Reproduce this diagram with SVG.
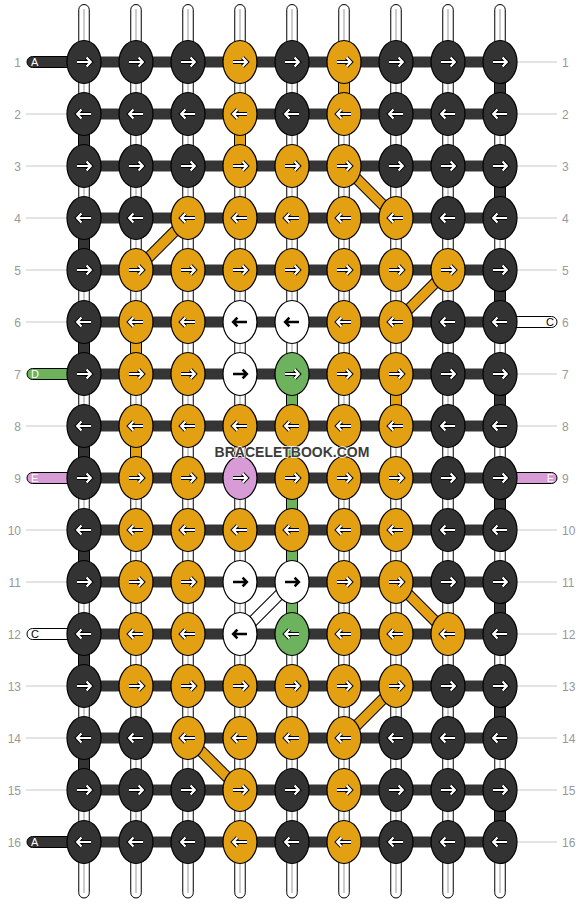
<svg xmlns="http://www.w3.org/2000/svg" xmlns:xlink="http://www.w3.org/1999/xlink" width="584" height="904" viewBox="0 0 584 904">
<style>
.nd{stroke:#000;stroke-width:1.2}
.d{fill:#333}.o{fill:#e2a012}.w{fill:#fff}.g{fill:#6db35e}.p{fill:#d79bd6}
.tube{fill:#fff;stroke:#000;stroke-width:1}
.cl{stroke:#bbb;stroke-width:1.5}
.hb{fill:#353535}
.seg{stroke:#000;stroke-width:1}
.gl{stroke:#c8c8c8;stroke-width:1}
.num{font-family:"Liberation Sans",Arial,sans-serif;font-size:12px;fill:#999}
.tl{font-family:"Liberation Sans",Arial,sans-serif;font-size:11px}
.wm{font-family:"Liberation Sans",Arial,sans-serif;font-size:14px;font-weight:bold;fill:#3c3c3c;stroke:#fff;stroke-width:1.5;paint-order:stroke fill}
</style>
<defs>
<path id="pR" d="M-7 0H6M2.6-4.4L6.8 0 2.6 4.4" fill="none"/>
<path id="pL" d="M7 0H-6M-2.6-4.4L-6.8 0-2.6 4.4" fill="none"/>
<g id="aRw"><use href="#pR" stroke="#000" stroke-width="4.2"/><use href="#pR" stroke="#fff" stroke-width="2.2"/></g>
<g id="aLw"><use href="#pL" stroke="#000" stroke-width="4.2"/><use href="#pL" stroke="#fff" stroke-width="2.2"/></g>
<use id="aRk" href="#pR" stroke="#000" stroke-width="2.6"/>
<use id="aLk" href="#pL" stroke="#000" stroke-width="2.6"/>
</defs>
<rect width="584" height="904" fill="#fff"/>
<g id="connectors">
<g id="strands">
<rect class="tube" x="78.75" y="4.5" width="10.5" height="893.5" rx="5.25"/><line class="cl" x1="84" y1="9" x2="84" y2="893"/>
<rect class="tube" x="130.75" y="4.5" width="10.5" height="893.5" rx="5.25"/><line class="cl" x1="136" y1="9" x2="136" y2="893"/>
<rect class="tube" x="182.75" y="4.5" width="10.5" height="893.5" rx="5.25"/><line class="cl" x1="188" y1="9" x2="188" y2="893"/>
<rect class="tube" x="234.75" y="4.5" width="10.5" height="893.5" rx="5.25"/><line class="cl" x1="240" y1="9" x2="240" y2="893"/>
<rect class="tube" x="286.75" y="4.5" width="10.5" height="893.5" rx="5.25"/><line class="cl" x1="292" y1="9" x2="292" y2="893"/>
<rect class="tube" x="338.75" y="4.5" width="10.5" height="893.5" rx="5.25"/><line class="cl" x1="344" y1="9" x2="344" y2="893"/>
<rect class="tube" x="390.75" y="4.5" width="10.5" height="893.5" rx="5.25"/><line class="cl" x1="396" y1="9" x2="396" y2="893"/>
<rect class="tube" x="442.75" y="4.5" width="10.5" height="893.5" rx="5.25"/><line class="cl" x1="448" y1="9" x2="448" y2="893"/>
<rect class="tube" x="494.75" y="4.5" width="10.5" height="893.5" rx="5.25"/><line class="cl" x1="500" y1="9" x2="500" y2="893"/>
</g>
<g id="vsegs">
<rect class="seg d" x="494.5" y="80" width="11" height="16"/>
<rect class="seg d" x="494.5" y="184" width="11" height="16"/>
<rect class="seg d" x="494.5" y="288" width="11" height="16"/>
<rect class="seg d" x="494.5" y="392" width="11" height="16"/>
<rect class="seg d" x="494.5" y="496" width="11" height="16"/>
<rect class="seg d" x="494.5" y="600" width="11" height="16"/>
<rect class="seg d" x="494.5" y="704" width="11" height="16"/>
<rect class="seg d" x="494.5" y="808" width="11" height="16"/>
<rect class="seg d" x="78.5" y="132" width="11" height="16"/>
<rect class="seg d" x="78.5" y="236" width="11" height="16"/>
<rect class="seg d" x="78.5" y="340" width="11" height="16"/>
<rect class="seg d" x="78.5" y="444" width="11" height="16"/>
<rect class="seg d" x="78.5" y="548" width="11" height="16"/>
<rect class="seg d" x="78.5" y="652" width="11" height="16"/>
<rect class="seg d" x="78.5" y="756" width="11" height="16"/>
<rect class="seg o" x="338.5" y="80" width="11" height="16"/>
<rect class="seg o" x="234.5" y="132" width="11" height="16"/>
<rect class="seg o" x="130.5" y="340" width="11" height="16"/>
<rect class="seg o" x="390.5" y="392" width="11" height="16"/>
<rect class="seg o" x="130.5" y="444" width="11" height="16"/>
<rect class="seg g" x="286.5" y="392" width="11" height="16"/>
<rect class="seg g" x="286.5" y="444" width="11" height="16"/>
<rect class="seg g" x="286.5" y="496" width="11" height="16"/>
<rect class="seg g" x="286.5" y="548" width="11" height="16"/>
<rect class="seg g" x="286.5" y="600" width="11" height="16"/>
</g>
<g id="rows">
<rect class="hb" x="84" y="56.5" width="416" height="11"/>
<rect class="hb" x="84" y="108.5" width="416" height="11"/>
<rect class="hb" x="84" y="160.5" width="416" height="11"/>
<rect class="hb" x="84" y="212.5" width="416" height="11"/>
<rect class="hb" x="84" y="264.5" width="416" height="11"/>
<rect class="hb" x="84" y="316.5" width="416" height="11"/>
<rect class="hb" x="84" y="368.5" width="416" height="11"/>
<rect class="hb" x="84" y="420.5" width="416" height="11"/>
<rect class="hb" x="84" y="472.5" width="416" height="11"/>
<rect class="hb" x="84" y="524.5" width="416" height="11"/>
<rect class="hb" x="84" y="576.5" width="416" height="11"/>
<rect class="hb" x="84" y="628.5" width="416" height="11"/>
<rect class="hb" x="84" y="680.5" width="416" height="11"/>
<rect class="hb" x="84" y="732.5" width="416" height="11"/>
<rect class="hb" x="84" y="784.5" width="416" height="11"/>
<rect class="hb" x="84" y="836.5" width="416" height="11"/>
</g>
<g id="diagonals">
<line x1="344" y1="166" x2="396" y2="218" stroke="#000" stroke-width="11.5"/><line x1="344" y1="166" x2="396" y2="218" stroke="#e2a012" stroke-width="9.5"/>
<line x1="188" y1="218" x2="136" y2="270" stroke="#000" stroke-width="11.5"/><line x1="188" y1="218" x2="136" y2="270" stroke="#e2a012" stroke-width="9.5"/>
<line x1="448" y1="270" x2="396" y2="322" stroke="#000" stroke-width="11.5"/><line x1="448" y1="270" x2="396" y2="322" stroke="#e2a012" stroke-width="9.5"/>
<line x1="396" y1="582" x2="448" y2="634" stroke="#000" stroke-width="11.5"/><line x1="396" y1="582" x2="448" y2="634" stroke="#e2a012" stroke-width="9.5"/>
<line x1="396" y1="686" x2="344" y2="738" stroke="#000" stroke-width="11.5"/><line x1="396" y1="686" x2="344" y2="738" stroke="#e2a012" stroke-width="9.5"/>
<line x1="188" y1="738" x2="240" y2="790" stroke="#000" stroke-width="11.5"/><line x1="188" y1="738" x2="240" y2="790" stroke="#e2a012" stroke-width="9.5"/>
<line x1="292" y1="582" x2="240" y2="634" stroke="#000" stroke-width="11.5"/><line x1="292" y1="582" x2="240" y2="634" stroke="#fff" stroke-width="9.5"/>
</g>
<g id="tails">
<rect class="seg d" x="27" y="56.5" width="50" height="11" rx="5.5"/>
<rect class="seg g" x="27" y="368.5" width="50" height="11" rx="5.5"/>
<rect class="seg p" x="27" y="472.5" width="50" height="11" rx="5.5"/>
<rect class="seg w" x="27" y="628.5" width="50" height="11" rx="5.5"/>
<rect class="seg d" x="27" y="836.5" width="50" height="11" rx="5.5"/>
<rect class="seg w" x="507" y="316.5" width="50" height="11" rx="5.5"/>
<rect class="seg p" x="507" y="472.5" width="50" height="11" rx="5.5"/>
</g>
<g id="guides">
<line class="gl" x1="26" y1="114" x2="67" y2="114"/>
<line class="gl" x1="26" y1="166" x2="67" y2="166"/>
<line class="gl" x1="26" y1="218" x2="67" y2="218"/>
<line class="gl" x1="26" y1="270" x2="67" y2="270"/>
<line class="gl" x1="26" y1="322" x2="67" y2="322"/>
<line class="gl" x1="26" y1="426" x2="67" y2="426"/>
<line class="gl" x1="26" y1="530" x2="67" y2="530"/>
<line class="gl" x1="26" y1="582" x2="67" y2="582"/>
<line class="gl" x1="26" y1="686" x2="67" y2="686"/>
<line class="gl" x1="26" y1="738" x2="67" y2="738"/>
<line class="gl" x1="26" y1="790" x2="67" y2="790"/>
<line class="gl" x1="517" y1="62" x2="557" y2="62"/>
<line class="gl" x1="517" y1="114" x2="557" y2="114"/>
<line class="gl" x1="517" y1="166" x2="557" y2="166"/>
<line class="gl" x1="517" y1="218" x2="557" y2="218"/>
<line class="gl" x1="517" y1="270" x2="557" y2="270"/>
<line class="gl" x1="517" y1="374" x2="557" y2="374"/>
<line class="gl" x1="517" y1="426" x2="557" y2="426"/>
<line class="gl" x1="517" y1="530" x2="557" y2="530"/>
<line class="gl" x1="517" y1="582" x2="557" y2="582"/>
<line class="gl" x1="517" y1="634" x2="557" y2="634"/>
<line class="gl" x1="517" y1="686" x2="557" y2="686"/>
<line class="gl" x1="517" y1="738" x2="557" y2="738"/>
<line class="gl" x1="517" y1="790" x2="557" y2="790"/>
<line class="gl" x1="517" y1="842" x2="557" y2="842"/>
</g>
</g>
<g id="tail-labels" class="tl">
<text x="31" y="66" fill="#fff">A</text>
<text x="31" y="378" fill="#fff">D</text>
<text x="31" y="482" fill="#fff">E</text>
<text x="31" y="638" fill="#000">C</text>
<text x="31" y="846" fill="#fff">A</text>
<text x="554" y="326" fill="#000" text-anchor="end">C</text>
<text x="554" y="482" fill="#fff" text-anchor="end">E</text>
</g>
<g id="row-numbers" class="num">
<g text-anchor="end">
<text x="21" y="66.5">1</text><text x="21" y="118.5">2</text><text x="21" y="170.5">3</text><text x="21" y="222.5">4</text>
<text x="21" y="274.5">5</text><text x="21" y="326.5">6</text><text x="21" y="378.5">7</text><text x="21" y="430.5">8</text>
<text x="21" y="482.5">9</text><text x="21" y="534.5">10</text><text x="21" y="586.5">11</text><text x="21" y="638.5">12</text>
<text x="21" y="690.5">13</text><text x="21" y="742.5">14</text><text x="21" y="794.5">15</text><text x="21" y="846.5">16</text>
</g>
<g>
<text x="562" y="66.5">1</text><text x="562" y="118.5">2</text><text x="562" y="170.5">3</text><text x="562" y="222.5">4</text>
<text x="562" y="274.5">5</text><text x="562" y="326.5">6</text><text x="562" y="378.5">7</text><text x="562" y="430.5">8</text>
<text x="562" y="482.5">9</text><text x="562" y="534.5">10</text><text x="562" y="586.5">11</text><text x="562" y="638.5">12</text>
<text x="562" y="690.5">13</text><text x="562" y="742.5">14</text><text x="562" y="794.5">15</text><text x="562" y="846.5">16</text>
</g>
</g>
<g id="nodes">
<g id="n1-1"><ellipse class="nd d" cx="84" cy="62" rx="17" ry="21.5"/><use href="#aRw" x="84" y="62"/></g>
<g id="n1-2"><ellipse class="nd d" cx="136" cy="62" rx="17" ry="21.5"/><use href="#aRw" x="136" y="62"/></g>
<g id="n1-3"><ellipse class="nd d" cx="188" cy="62" rx="17" ry="21.5"/><use href="#aRw" x="188" y="62"/></g>
<g id="n1-4"><ellipse class="nd o" cx="240" cy="62" rx="17" ry="21.5"/><use href="#aRw" x="240" y="62"/></g>
<g id="n1-5"><ellipse class="nd d" cx="292" cy="62" rx="17" ry="21.5"/><use href="#aRw" x="292" y="62"/></g>
<g id="n1-6"><ellipse class="nd o" cx="344" cy="62" rx="17" ry="21.5"/><use href="#aRw" x="344" y="62"/></g>
<g id="n1-7"><ellipse class="nd d" cx="396" cy="62" rx="17" ry="21.5"/><use href="#aRw" x="396" y="62"/></g>
<g id="n1-8"><ellipse class="nd d" cx="448" cy="62" rx="17" ry="21.5"/><use href="#aRw" x="448" y="62"/></g>
<g id="n1-9"><ellipse class="nd d" cx="500" cy="62" rx="17" ry="21.5"/><use href="#aRw" x="500" y="62"/></g>

<g id="n2-1"><ellipse class="nd d" cx="84" cy="114" rx="17" ry="21.5"/><use href="#aLw" x="84" y="114"/></g>
<g id="n2-2"><ellipse class="nd d" cx="136" cy="114" rx="17" ry="21.5"/><use href="#aLw" x="136" y="114"/></g>
<g id="n2-3"><ellipse class="nd d" cx="188" cy="114" rx="17" ry="21.5"/><use href="#aLw" x="188" y="114"/></g>
<g id="n2-4"><ellipse class="nd o" cx="240" cy="114" rx="17" ry="21.5"/><use href="#aLw" x="240" y="114"/></g>
<g id="n2-5"><ellipse class="nd d" cx="292" cy="114" rx="17" ry="21.5"/><use href="#aLw" x="292" y="114"/></g>
<g id="n2-6"><ellipse class="nd o" cx="344" cy="114" rx="17" ry="21.5"/><use href="#aLw" x="344" y="114"/></g>
<g id="n2-7"><ellipse class="nd d" cx="396" cy="114" rx="17" ry="21.5"/><use href="#aLw" x="396" y="114"/></g>
<g id="n2-8"><ellipse class="nd d" cx="448" cy="114" rx="17" ry="21.5"/><use href="#aLw" x="448" y="114"/></g>
<g id="n2-9"><ellipse class="nd d" cx="500" cy="114" rx="17" ry="21.5"/><use href="#aLw" x="500" y="114"/></g>

<g id="n3-1"><ellipse class="nd d" cx="84" cy="166" rx="17" ry="21.5"/><use href="#aRw" x="84" y="166"/></g>
<g id="n3-2"><ellipse class="nd d" cx="136" cy="166" rx="17" ry="21.5"/><use href="#aRw" x="136" y="166"/></g>
<g id="n3-3"><ellipse class="nd d" cx="188" cy="166" rx="17" ry="21.5"/><use href="#aRw" x="188" y="166"/></g>
<g id="n3-4"><ellipse class="nd o" cx="240" cy="166" rx="17" ry="21.5"/><use href="#aRw" x="240" y="166"/></g>
<g id="n3-5"><ellipse class="nd o" cx="292" cy="166" rx="17" ry="21.5"/><use href="#aRw" x="292" y="166"/></g>
<g id="n3-6"><ellipse class="nd o" cx="344" cy="166" rx="17" ry="21.5"/><use href="#aRw" x="344" y="166"/></g>
<g id="n3-7"><ellipse class="nd d" cx="396" cy="166" rx="17" ry="21.5"/><use href="#aRw" x="396" y="166"/></g>
<g id="n3-8"><ellipse class="nd d" cx="448" cy="166" rx="17" ry="21.5"/><use href="#aRw" x="448" y="166"/></g>
<g id="n3-9"><ellipse class="nd d" cx="500" cy="166" rx="17" ry="21.5"/><use href="#aRw" x="500" y="166"/></g>

<g id="n4-1"><ellipse class="nd d" cx="84" cy="218" rx="17" ry="21.5"/><use href="#aLw" x="84" y="218"/></g>
<g id="n4-2"><ellipse class="nd d" cx="136" cy="218" rx="17" ry="21.5"/><use href="#aLw" x="136" y="218"/></g>
<g id="n4-3"><ellipse class="nd o" cx="188" cy="218" rx="17" ry="21.5"/><use href="#aLw" x="188" y="218"/></g>
<g id="n4-4"><ellipse class="nd o" cx="240" cy="218" rx="17" ry="21.5"/><use href="#aLw" x="240" y="218"/></g>
<g id="n4-5"><ellipse class="nd o" cx="292" cy="218" rx="17" ry="21.5"/><use href="#aLw" x="292" y="218"/></g>
<g id="n4-6"><ellipse class="nd o" cx="344" cy="218" rx="17" ry="21.5"/><use href="#aLw" x="344" y="218"/></g>
<g id="n4-7"><ellipse class="nd o" cx="396" cy="218" rx="17" ry="21.5"/><use href="#aLw" x="396" y="218"/></g>
<g id="n4-8"><ellipse class="nd d" cx="448" cy="218" rx="17" ry="21.5"/><use href="#aLw" x="448" y="218"/></g>
<g id="n4-9"><ellipse class="nd d" cx="500" cy="218" rx="17" ry="21.5"/><use href="#aLw" x="500" y="218"/></g>

<g id="n5-1"><ellipse class="nd d" cx="84" cy="270" rx="17" ry="21.5"/><use href="#aRw" x="84" y="270"/></g>
<g id="n5-2"><ellipse class="nd o" cx="136" cy="270" rx="17" ry="21.5"/><use href="#aRw" x="136" y="270"/></g>
<g id="n5-3"><ellipse class="nd o" cx="188" cy="270" rx="17" ry="21.5"/><use href="#aRw" x="188" y="270"/></g>
<g id="n5-4"><ellipse class="nd o" cx="240" cy="270" rx="17" ry="21.5"/><use href="#aRw" x="240" y="270"/></g>
<g id="n5-5"><ellipse class="nd o" cx="292" cy="270" rx="17" ry="21.5"/><use href="#aRw" x="292" y="270"/></g>
<g id="n5-6"><ellipse class="nd o" cx="344" cy="270" rx="17" ry="21.5"/><use href="#aRw" x="344" y="270"/></g>
<g id="n5-7"><ellipse class="nd o" cx="396" cy="270" rx="17" ry="21.5"/><use href="#aRw" x="396" y="270"/></g>
<g id="n5-8"><ellipse class="nd o" cx="448" cy="270" rx="17" ry="21.5"/><use href="#aRw" x="448" y="270"/></g>
<g id="n5-9"><ellipse class="nd d" cx="500" cy="270" rx="17" ry="21.5"/><use href="#aRw" x="500" y="270"/></g>

<g id="n6-1"><ellipse class="nd d" cx="84" cy="322" rx="17" ry="21.5"/><use href="#aLw" x="84" y="322"/></g>
<g id="n6-2"><ellipse class="nd o" cx="136" cy="322" rx="17" ry="21.5"/><use href="#aLw" x="136" y="322"/></g>
<g id="n6-3"><ellipse class="nd o" cx="188" cy="322" rx="17" ry="21.5"/><use href="#aLw" x="188" y="322"/></g>
<g id="n6-4"><ellipse class="nd w" cx="240" cy="322" rx="17" ry="21.5"/><use href="#aLk" x="240" y="322"/></g>
<g id="n6-5"><ellipse class="nd w" cx="292" cy="322" rx="17" ry="21.5"/><use href="#aLk" x="292" y="322"/></g>
<g id="n6-6"><ellipse class="nd o" cx="344" cy="322" rx="17" ry="21.5"/><use href="#aLw" x="344" y="322"/></g>
<g id="n6-7"><ellipse class="nd o" cx="396" cy="322" rx="17" ry="21.5"/><use href="#aLw" x="396" y="322"/></g>
<g id="n6-8"><ellipse class="nd d" cx="448" cy="322" rx="17" ry="21.5"/><use href="#aLw" x="448" y="322"/></g>
<g id="n6-9"><ellipse class="nd d" cx="500" cy="322" rx="17" ry="21.5"/><use href="#aLw" x="500" y="322"/></g>

<g id="n7-1"><ellipse class="nd d" cx="84" cy="374" rx="17" ry="21.5"/><use href="#aRw" x="84" y="374"/></g>
<g id="n7-2"><ellipse class="nd o" cx="136" cy="374" rx="17" ry="21.5"/><use href="#aRw" x="136" y="374"/></g>
<g id="n7-3"><ellipse class="nd o" cx="188" cy="374" rx="17" ry="21.5"/><use href="#aRw" x="188" y="374"/></g>
<g id="n7-4"><ellipse class="nd w" cx="240" cy="374" rx="17" ry="21.5"/><use href="#aRk" x="240" y="374"/></g>
<g id="n7-5"><ellipse class="nd g" cx="292" cy="374" rx="17" ry="21.5"/><use href="#aRw" x="292" y="374"/></g>
<g id="n7-6"><ellipse class="nd o" cx="344" cy="374" rx="17" ry="21.5"/><use href="#aRw" x="344" y="374"/></g>
<g id="n7-7"><ellipse class="nd o" cx="396" cy="374" rx="17" ry="21.5"/><use href="#aRw" x="396" y="374"/></g>
<g id="n7-8"><ellipse class="nd d" cx="448" cy="374" rx="17" ry="21.5"/><use href="#aRw" x="448" y="374"/></g>
<g id="n7-9"><ellipse class="nd d" cx="500" cy="374" rx="17" ry="21.5"/><use href="#aRw" x="500" y="374"/></g>

<g id="n8-1"><ellipse class="nd d" cx="84" cy="426" rx="17" ry="21.5"/><use href="#aLw" x="84" y="426"/></g>
<g id="n8-2"><ellipse class="nd o" cx="136" cy="426" rx="17" ry="21.5"/><use href="#aLw" x="136" y="426"/></g>
<g id="n8-3"><ellipse class="nd o" cx="188" cy="426" rx="17" ry="21.5"/><use href="#aLw" x="188" y="426"/></g>
<g id="n8-4"><ellipse class="nd o" cx="240" cy="426" rx="17" ry="21.5"/><use href="#aLw" x="240" y="426"/></g>
<g id="n8-5"><ellipse class="nd o" cx="292" cy="426" rx="17" ry="21.5"/><use href="#aLw" x="292" y="426"/></g>
<g id="n8-6"><ellipse class="nd o" cx="344" cy="426" rx="17" ry="21.5"/><use href="#aLw" x="344" y="426"/></g>
<g id="n8-7"><ellipse class="nd o" cx="396" cy="426" rx="17" ry="21.5"/><use href="#aLw" x="396" y="426"/></g>
<g id="n8-8"><ellipse class="nd d" cx="448" cy="426" rx="17" ry="21.5"/><use href="#aLw" x="448" y="426"/></g>
<g id="n8-9"><ellipse class="nd d" cx="500" cy="426" rx="17" ry="21.5"/><use href="#aLw" x="500" y="426"/></g>

<g id="n9-1"><ellipse class="nd d" cx="84" cy="478" rx="17" ry="21.5"/><use href="#aRw" x="84" y="478"/></g>
<g id="n9-2"><ellipse class="nd o" cx="136" cy="478" rx="17" ry="21.5"/><use href="#aRw" x="136" y="478"/></g>
<g id="n9-3"><ellipse class="nd o" cx="188" cy="478" rx="17" ry="21.5"/><use href="#aRw" x="188" y="478"/></g>
<g id="n9-4"><ellipse class="nd p" cx="240" cy="478" rx="17" ry="21.5"/><use href="#aRw" x="240" y="478"/></g>
<g id="n9-5"><ellipse class="nd o" cx="292" cy="478" rx="17" ry="21.5"/><use href="#aRw" x="292" y="478"/></g>
<g id="n9-6"><ellipse class="nd o" cx="344" cy="478" rx="17" ry="21.5"/><use href="#aRw" x="344" y="478"/></g>
<g id="n9-7"><ellipse class="nd o" cx="396" cy="478" rx="17" ry="21.5"/><use href="#aRw" x="396" y="478"/></g>
<g id="n9-8"><ellipse class="nd d" cx="448" cy="478" rx="17" ry="21.5"/><use href="#aRw" x="448" y="478"/></g>
<g id="n9-9"><ellipse class="nd d" cx="500" cy="478" rx="17" ry="21.5"/><use href="#aRw" x="500" y="478"/></g>

<g id="n10-1"><ellipse class="nd d" cx="84" cy="530" rx="17" ry="21.5"/><use href="#aLw" x="84" y="530"/></g>
<g id="n10-2"><ellipse class="nd o" cx="136" cy="530" rx="17" ry="21.5"/><use href="#aLw" x="136" y="530"/></g>
<g id="n10-3"><ellipse class="nd o" cx="188" cy="530" rx="17" ry="21.5"/><use href="#aLw" x="188" y="530"/></g>
<g id="n10-4"><ellipse class="nd o" cx="240" cy="530" rx="17" ry="21.5"/><use href="#aLw" x="240" y="530"/></g>
<g id="n10-5"><ellipse class="nd o" cx="292" cy="530" rx="17" ry="21.5"/><use href="#aLw" x="292" y="530"/></g>
<g id="n10-6"><ellipse class="nd o" cx="344" cy="530" rx="17" ry="21.5"/><use href="#aLw" x="344" y="530"/></g>
<g id="n10-7"><ellipse class="nd o" cx="396" cy="530" rx="17" ry="21.5"/><use href="#aLw" x="396" y="530"/></g>
<g id="n10-8"><ellipse class="nd d" cx="448" cy="530" rx="17" ry="21.5"/><use href="#aLw" x="448" y="530"/></g>
<g id="n10-9"><ellipse class="nd d" cx="500" cy="530" rx="17" ry="21.5"/><use href="#aLw" x="500" y="530"/></g>

<g id="n11-1"><ellipse class="nd d" cx="84" cy="582" rx="17" ry="21.5"/><use href="#aRw" x="84" y="582"/></g>
<g id="n11-2"><ellipse class="nd o" cx="136" cy="582" rx="17" ry="21.5"/><use href="#aRw" x="136" y="582"/></g>
<g id="n11-3"><ellipse class="nd o" cx="188" cy="582" rx="17" ry="21.5"/><use href="#aRw" x="188" y="582"/></g>
<g id="n11-4"><ellipse class="nd w" cx="240" cy="582" rx="17" ry="21.5"/><use href="#aRk" x="240" y="582"/></g>
<g id="n11-5"><ellipse class="nd w" cx="292" cy="582" rx="17" ry="21.5"/><use href="#aRk" x="292" y="582"/></g>
<g id="n11-6"><ellipse class="nd o" cx="344" cy="582" rx="17" ry="21.5"/><use href="#aRw" x="344" y="582"/></g>
<g id="n11-7"><ellipse class="nd o" cx="396" cy="582" rx="17" ry="21.5"/><use href="#aRw" x="396" y="582"/></g>
<g id="n11-8"><ellipse class="nd d" cx="448" cy="582" rx="17" ry="21.5"/><use href="#aRw" x="448" y="582"/></g>
<g id="n11-9"><ellipse class="nd d" cx="500" cy="582" rx="17" ry="21.5"/><use href="#aRw" x="500" y="582"/></g>

<g id="n12-1"><ellipse class="nd d" cx="84" cy="634" rx="17" ry="21.5"/><use href="#aLw" x="84" y="634"/></g>
<g id="n12-2"><ellipse class="nd o" cx="136" cy="634" rx="17" ry="21.5"/><use href="#aLw" x="136" y="634"/></g>
<g id="n12-3"><ellipse class="nd o" cx="188" cy="634" rx="17" ry="21.5"/><use href="#aLw" x="188" y="634"/></g>
<g id="n12-4"><ellipse class="nd w" cx="240" cy="634" rx="17" ry="21.5"/><use href="#aLk" x="240" y="634"/></g>
<g id="n12-5"><ellipse class="nd g" cx="292" cy="634" rx="17" ry="21.5"/><use href="#aLw" x="292" y="634"/></g>
<g id="n12-6"><ellipse class="nd o" cx="344" cy="634" rx="17" ry="21.5"/><use href="#aLw" x="344" y="634"/></g>
<g id="n12-7"><ellipse class="nd o" cx="396" cy="634" rx="17" ry="21.5"/><use href="#aLw" x="396" y="634"/></g>
<g id="n12-8"><ellipse class="nd o" cx="448" cy="634" rx="17" ry="21.5"/><use href="#aLw" x="448" y="634"/></g>
<g id="n12-9"><ellipse class="nd d" cx="500" cy="634" rx="17" ry="21.5"/><use href="#aLw" x="500" y="634"/></g>

<g id="n13-1"><ellipse class="nd d" cx="84" cy="686" rx="17" ry="21.5"/><use href="#aRw" x="84" y="686"/></g>
<g id="n13-2"><ellipse class="nd o" cx="136" cy="686" rx="17" ry="21.5"/><use href="#aRw" x="136" y="686"/></g>
<g id="n13-3"><ellipse class="nd o" cx="188" cy="686" rx="17" ry="21.5"/><use href="#aRw" x="188" y="686"/></g>
<g id="n13-4"><ellipse class="nd o" cx="240" cy="686" rx="17" ry="21.5"/><use href="#aRw" x="240" y="686"/></g>
<g id="n13-5"><ellipse class="nd o" cx="292" cy="686" rx="17" ry="21.5"/><use href="#aRw" x="292" y="686"/></g>
<g id="n13-6"><ellipse class="nd o" cx="344" cy="686" rx="17" ry="21.5"/><use href="#aRw" x="344" y="686"/></g>
<g id="n13-7"><ellipse class="nd o" cx="396" cy="686" rx="17" ry="21.5"/><use href="#aRw" x="396" y="686"/></g>
<g id="n13-8"><ellipse class="nd d" cx="448" cy="686" rx="17" ry="21.5"/><use href="#aRw" x="448" y="686"/></g>
<g id="n13-9"><ellipse class="nd d" cx="500" cy="686" rx="17" ry="21.5"/><use href="#aRw" x="500" y="686"/></g>

<g id="n14-1"><ellipse class="nd d" cx="84" cy="738" rx="17" ry="21.5"/><use href="#aLw" x="84" y="738"/></g>
<g id="n14-2"><ellipse class="nd d" cx="136" cy="738" rx="17" ry="21.5"/><use href="#aLw" x="136" y="738"/></g>
<g id="n14-3"><ellipse class="nd o" cx="188" cy="738" rx="17" ry="21.5"/><use href="#aLw" x="188" y="738"/></g>
<g id="n14-4"><ellipse class="nd o" cx="240" cy="738" rx="17" ry="21.5"/><use href="#aLw" x="240" y="738"/></g>
<g id="n14-5"><ellipse class="nd o" cx="292" cy="738" rx="17" ry="21.5"/><use href="#aLw" x="292" y="738"/></g>
<g id="n14-6"><ellipse class="nd o" cx="344" cy="738" rx="17" ry="21.5"/><use href="#aLw" x="344" y="738"/></g>
<g id="n14-7"><ellipse class="nd d" cx="396" cy="738" rx="17" ry="21.5"/><use href="#aLw" x="396" y="738"/></g>
<g id="n14-8"><ellipse class="nd d" cx="448" cy="738" rx="17" ry="21.5"/><use href="#aLw" x="448" y="738"/></g>
<g id="n14-9"><ellipse class="nd d" cx="500" cy="738" rx="17" ry="21.5"/><use href="#aLw" x="500" y="738"/></g>

<g id="n15-1"><ellipse class="nd d" cx="84" cy="790" rx="17" ry="21.5"/><use href="#aRw" x="84" y="790"/></g>
<g id="n15-2"><ellipse class="nd d" cx="136" cy="790" rx="17" ry="21.5"/><use href="#aRw" x="136" y="790"/></g>
<g id="n15-3"><ellipse class="nd d" cx="188" cy="790" rx="17" ry="21.5"/><use href="#aRw" x="188" y="790"/></g>
<g id="n15-4"><ellipse class="nd o" cx="240" cy="790" rx="17" ry="21.5"/><use href="#aRw" x="240" y="790"/></g>
<g id="n15-5"><ellipse class="nd d" cx="292" cy="790" rx="17" ry="21.5"/><use href="#aRw" x="292" y="790"/></g>
<g id="n15-6"><ellipse class="nd o" cx="344" cy="790" rx="17" ry="21.5"/><use href="#aRw" x="344" y="790"/></g>
<g id="n15-7"><ellipse class="nd d" cx="396" cy="790" rx="17" ry="21.5"/><use href="#aRw" x="396" y="790"/></g>
<g id="n15-8"><ellipse class="nd d" cx="448" cy="790" rx="17" ry="21.5"/><use href="#aRw" x="448" y="790"/></g>
<g id="n15-9"><ellipse class="nd d" cx="500" cy="790" rx="17" ry="21.5"/><use href="#aRw" x="500" y="790"/></g>

<g id="n16-1"><ellipse class="nd d" cx="84" cy="842" rx="17" ry="21.5"/><use href="#aLw" x="84" y="842"/></g>
<g id="n16-2"><ellipse class="nd d" cx="136" cy="842" rx="17" ry="21.5"/><use href="#aLw" x="136" y="842"/></g>
<g id="n16-3"><ellipse class="nd d" cx="188" cy="842" rx="17" ry="21.5"/><use href="#aLw" x="188" y="842"/></g>
<g id="n16-4"><ellipse class="nd o" cx="240" cy="842" rx="17" ry="21.5"/><use href="#aLw" x="240" y="842"/></g>
<g id="n16-5"><ellipse class="nd d" cx="292" cy="842" rx="17" ry="21.5"/><use href="#aLw" x="292" y="842"/></g>
<g id="n16-6"><ellipse class="nd o" cx="344" cy="842" rx="17" ry="21.5"/><use href="#aLw" x="344" y="842"/></g>
<g id="n16-7"><ellipse class="nd d" cx="396" cy="842" rx="17" ry="21.5"/><use href="#aLw" x="396" y="842"/></g>
<g id="n16-8"><ellipse class="nd d" cx="448" cy="842" rx="17" ry="21.5"/><use href="#aLw" x="448" y="842"/></g>
<g id="n16-9"><ellipse class="nd d" cx="500" cy="842" rx="17" ry="21.5"/><use href="#aLw" x="500" y="842"/></g>
</g>
<text id="watermark" class="wm" x="292" y="456.5" text-anchor="middle">BRACELETBOOK.COM</text>
</svg>
